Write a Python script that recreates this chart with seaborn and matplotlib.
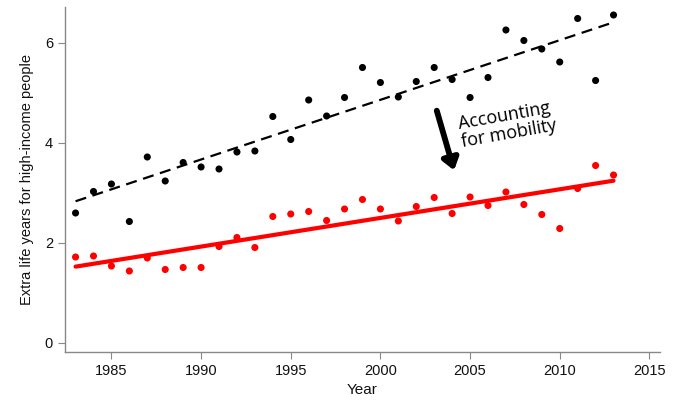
"""extra life years, high-income vs mobility-adjusted"""

import pandas as pd
import numpy as np
import matplotlib
matplotlib.use("Agg")
import matplotlib.pyplot as plt
import seaborn as sns

sns.set_theme(style="ticks")
plt.rcParams['font.family'] = ['Liberation Sans', 'DejaVu Sans']

years = list(range(1983, 2014))
raw = [2.60, 3.03, 3.18, 2.43, 3.72, 3.24, 3.61, 3.52, 3.48, 3.82,
       3.84, 4.53, 4.07, 4.86, 4.54, 4.91, 5.51, 5.21, 4.92, 5.23,
       5.51, 5.27, 4.91, 5.31, 6.26, 6.05, 5.88, 5.62, 6.49, 5.25, 6.56]
mobility = [1.72, 1.74, 1.54, 1.44, 1.70, 1.47, 1.51, 1.51, 1.93, 2.11,
            1.91, 2.53, 2.58, 2.63, 2.45, 2.68, 2.87, 2.68, 2.44, 2.73,
            2.91, 2.59, 2.92, 2.75, 3.02, 2.77, 2.57, 2.29, 3.09, 3.55, 3.36]

df = pd.DataFrame({"Year": years, "raw": raw, "mobility": mobility})

fig = plt.figure(figsize=(6.75, 4), dpi=100)
ax = fig.add_axes([0.096, 0.12, 0.882, 0.8625])

# fitted lines
sns.regplot(x="Year", y="raw", data=df, ci=None, scatter=False, ax=ax,
            line_kws={"color": "black", "lw": 1.6, "ls": (0, (5, 3))})
sns.regplot(x="Year", y="mobility", data=df, ci=None, scatter=False, ax=ax,
            line_kws={"color": "#ff0000", "lw": 3})

# points
sns.scatterplot(x="Year", y="raw", data=df, color="black", s=26,
                edgecolor="none", ax=ax, zorder=3)
sns.scatterplot(x="Year", y="mobility", data=df, color="#ff0000", s=26,
                edgecolor="none", ax=ax, zorder=3)

ax.set_xlim(1982.4, 2015.6)
ax.set_ylim(-0.18, 6.72)
ax.set_xticks([1985, 1990, 1995, 2000, 2005, 2010, 2015])
ax.set_yticks([0, 2, 4, 6])
ax.set_xlabel("Year", fontsize=11, color="#111111", labelpad=4)
ax.set_ylabel("Extra life years for high-income people", fontsize=10.5,
              color="#111111", labelpad=8)
ax.tick_params(labelsize=10.5, labelcolor="#111111", length=5, width=0.8,
               color="#888888")
for s in ["top", "right"]:
    ax.spines[s].set_visible(False)
for s in ["left", "bottom"]:
    ax.spines[s].set_color("#888888")
    ax.spines[s].set_linewidth(1)

# annotation
ax.annotate("", xy=(2004.15, 3.40), xytext=(2003.1, 4.70),
            arrowprops=dict(arrowstyle="-|>,head_length=0.55,head_width=0.4",
                            color="black", lw=4.2))
ax.text(2004.45, 4.2, "Accounting\nfor mobility", fontsize=13,
        color="black", family=["Open Sans", "DejaVu Sans"], rotation=10,
        rotation_mode="anchor", ha="left", va="center", linespacing=1.05)

fig.savefig("out.png", dpi=100)
